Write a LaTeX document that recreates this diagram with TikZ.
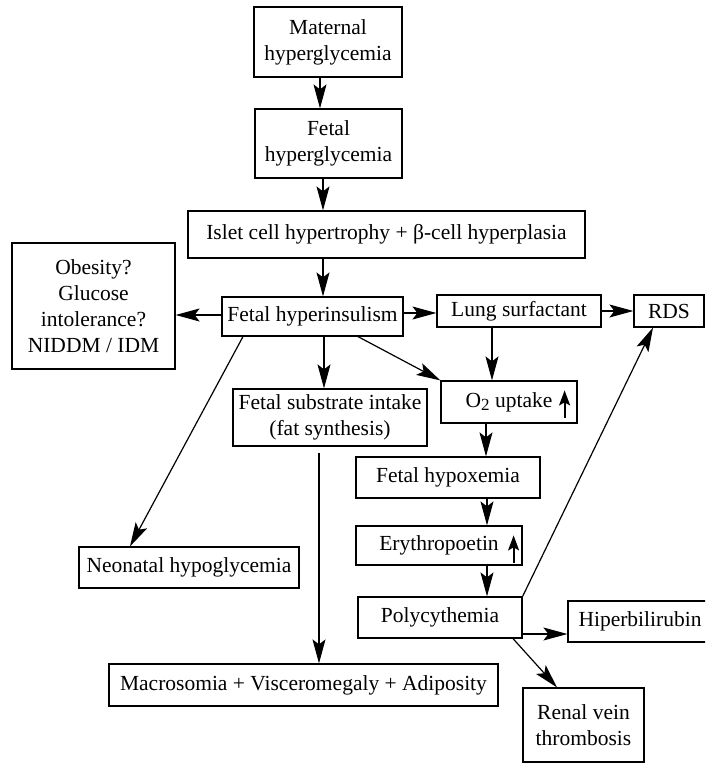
\documentclass[tikz,border=0pt]{standalone}
\usepackage{fontspec}
\setmainfont{Liberation Serif}
\usetikzlibrary{arrows.meta,calc}
\begin{document}
\begin{tikzpicture}[x=1pt,y=-1pt,
  bx/.style={draw, line width=1.2pt, inner sep=0pt, align=center, font=\fontsize{21.5}{26}\selectfont},
  arr/.style={line width=1.2pt, -{Stealth[length=24pt,width=13pt,inset=5pt]}},
  uparr/.style={line width=1.8pt, -{Stealth[length=15pt,width=11pt,inset=3pt]}}]
\fill[white] (0,0) rectangle (705,763);
\useasboundingbox (0,0) rectangle (705,763);
\clip (0,0) rectangle (705,763);

\node[bx, minimum width=148pt, minimum height=70pt] (mat) at (328,42) {Maternal\\hyperglycemia};
\node[bx, minimum width=147pt, minimum height=69pt] (fhg) at (328.5,143.5) {Fetal\\hyperglycemia};
\node[bx, minimum width=397pt, minimum height=47pt] (isl) at (386.5,234.5) {Islet cell hypertrophy + β-cell hyperplasia};
\node[bx, minimum width=163pt, minimum height=126pt] (obs) at (93.5,306) {Obesity?\\Glucose\\intolerance?\\NIDDM / IDM};
\node[bx, minimum width=181pt, minimum height=39pt] (hyp) at (312.5,316.5) {Fetal hyperinsulism};
\node[bx, minimum width=164pt, minimum height=32pt] (lun) at (519,311) {Lung surfactant};
\node[bx, minimum width=70pt, minimum height=32pt] (rds) at (669,311) {RDS};
\node[bx, minimum width=194pt, minimum height=57pt] (sub) at (330,417.5) {Fetal substrate intake\\(fat synthesis)};
\node[bx, minimum width=136pt, minimum height=42pt] (o2) at (509,402) {O\raisebox{-0.35ex}{\fontsize{17}{17}\selectfont 2} uptake};
\node[bx, minimum width=184pt, minimum height=41pt] (hpx) at (448,477.5) {Fetal hypoxemia};
\node[bx, minimum width=166pt, minimum height=39pt] (ery) at (439,545.5) {Erythropoetin};
\node[bx, minimum width=164pt, minimum height=41pt] (pol) at (440,617.5) {Polycythemia};
\node[bx, minimum width=144pt, minimum height=41pt] (hip) at (640,621.5) {Hiperbilirubin};
\node[bx, minimum width=121pt, minimum height=74pt] (ren) at (583.5,725) {Renal vein\\thrombosis};
\node[bx, minimum width=389pt, minimum height=42pt] (mac) at (303.5,685) {Macrosomia + Visceromegaly + Adiposity};
\node[bx, minimum width=220pt, minimum height=41pt] (neo) at (189,567.5) {Neonatal hypoglycemia};

\draw[arr] ($(mat.south)+(-8,0)$) -- ($(fhg.north)+(-8.5,0)$);
\draw[arr] ($(fhg.south)+(-5.5,0)$) -- ($(isl.north)+(-63.5,0)$);
\draw[arr] ($(isl.south)+(-63.5,0)$) -- ($(hyp.north)+(10.5,0)$);
\draw[arr] ($(hyp.west)+(0,-1.5)$) -- ($(obs.east)+(0,9)$);
\draw[arr] ($(hyp.east)+(0,-3.5)$) -- ($(lun.west)+(0,2)$);
\draw[arr] (lun.east) -- (rds.west);
\draw[arr] ($(hyp.south)+(11.5,0)$) -- ($(sub.north)+(-6,0)$);
\draw[arr] ($(hyp.south)+(45.5,0)$) -- (o2.north west);
\draw[arr] ($(lun.south)+(-27,0)$) -- ($(o2.north)+(-17,0)$);
\draw[arr] ($(o2.south)+(-23,0)$) -- ($(hpx.north)+(38,0)$);
\draw[arr] ($(hpx.south)+(39,0)$) -- ($(ery.north)+(48,0)$);
\draw[arr] ($(ery.south)+(48,0)$) -- ($(pol.north)+(47,0)$);
\draw[arr] (pol.north east) -- ($(rds.south)+(-16,0)$);
\draw[arr] ($(pol.east)+(0,16.5)$) -- ($(hip.west)+(0,12.5)$);
\draw[arr] ($(pol.south)+(73,0)$) -- ($(ren.north)+(-26.5,0)$);
\draw[arr] ($(hyp.south)+(-69.5,0)$) -- ($(neo.north)+(-59,0)$);
\draw[arr] ($(sub.south)+(-11,6)$) -- ($(mac.north)+(15.5,0)$);

\draw[uparr] ($(o2.south east)+(-13,-6)$) -- ($(o2.north east)+(-13,10)$);
\draw[uparr] ($(ery.south east)+(-9,-3)$) -- ($(ery.north east)+(-9,10)$);
\end{tikzpicture}
\end{document}
